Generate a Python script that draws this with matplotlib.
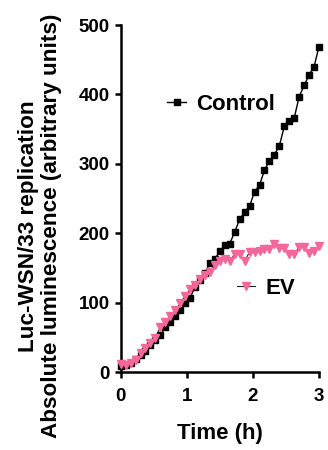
import matplotlib
matplotlib.use("Agg")
import matplotlib.pyplot as plt
from matplotlib.lines import Line2D

plt.rcParams['font.family'] = ['Liberation Sans', 'DejaVu Sans']
plt.rcParams['font.weight'] = 'bold'

time_h = [0.0, 0.075, 0.15, 0.225, 0.3, 0.375, 0.45, 0.525, 0.6, 0.675,
          0.75, 0.825, 0.9, 0.975, 1.05, 1.125, 1.2, 1.275, 1.35, 1.425,
          1.5, 1.575, 1.65, 1.725, 1.8, 1.875, 1.95, 2.025, 2.1, 2.175,
          2.25, 2.325, 2.4, 2.475, 2.55, 2.625, 2.7, 2.775, 2.85, 2.925, 3.0]
control = [9, 10, 13, 19, 24, 31, 39, 46, 53, 65, 72, 81, 89, 99, 107, 123,
           133, 143, 157, 163, 174, 183, 185, 202, 220, 231, 239, 260, 269,
           291, 304, 313, 326, 354, 362, 366, 397, 413, 428, 440, 469]
ev = [11, 10, 13, 18, 27, 34, 42, 49, 65, 72, 81, 89, 99, 110, 119, 126,
      134, 140, 144, 154, 160, 163, 160, 170, 170, 160, 173, 173, 175, 177,
      177, 184, 179, 178, 170, 170, 180, 180, 172, 174, 182]

x_ticks = [0, 1, 2, 3]
y_ticks = [0, 100, 200, 300, 400, 500]

pink = '#F5679A'

fig = plt.figure(figsize=(3.28, 4.5), dpi=100)
ax = fig.add_axes([0.368, 0.1733, 0.6046, 0.7711])

ax.plot(time_h, control, color='black', lw=1.0, marker='s', ms=4.8,
        mfc='black', mec='black', clip_on=False, zorder=3)
ax.plot(time_h, ev, color='#222222', lw=0.8, marker='v', ms=5.3,
        mfc=pink, mec=pink, clip_on=False, zorder=4)

ax.set_xlim(0, 3)
ax.set_ylim(0, 500)
ax.set_xticks(x_ticks)
ax.set_yticks(y_ticks)
ax.tick_params(axis='both', labelsize=13.5, width=1.8, length=4.3)
ax.tick_params(axis='x', pad=7.0)
ax.tick_params(axis='y', pad=3.5)
for lab in ax.get_xticklabels() + ax.get_yticklabels():
    lab.set_fontweight('bold')
for s in ['top', 'right']:
    ax.spines[s].set_visible(False)
for s in ['left', 'bottom']:
    ax.spines[s].set_linewidth(1.8)

ax.set_xlabel('Time (h)', fontsize=16, fontweight='bold', labelpad=13)
ax.set_ylabel('Luc-WSN/33 replication\nAbsolute luminescence (arbitrary units)',
              fontsize=16.2, fontweight='bold', labelpad=12, linespacing=1.12)
ax.yaxis.label.set_y(0.42)

h1 = Line2D([], [], color='black', lw=1.0, marker='s', ms=4.8, mfc='black', mec='black')
h2 = Line2D([], [], color='#222222', lw=0.8, marker='v', ms=5.3, mfc=pink, mec=pink)
leg1 = ax.legend([h1], ['Control'], loc='center left', bbox_to_anchor=(0.235, 0.772),
                 frameon=False, handlelength=0.85, handletextpad=0.45,
                 borderpad=0, borderaxespad=0,
                 prop={'weight': 'bold', 'size': 16})
ax.add_artist(leg1)
ax.legend([h2], ['EV'], loc='center left', bbox_to_anchor=(0.584, 0.242),
          frameon=False, handlelength=0.85, handletextpad=0.45,
          borderpad=0, borderaxespad=0,
          prop={'weight': 'bold', 'size': 16})

fig.savefig('out.png', dpi=100)
